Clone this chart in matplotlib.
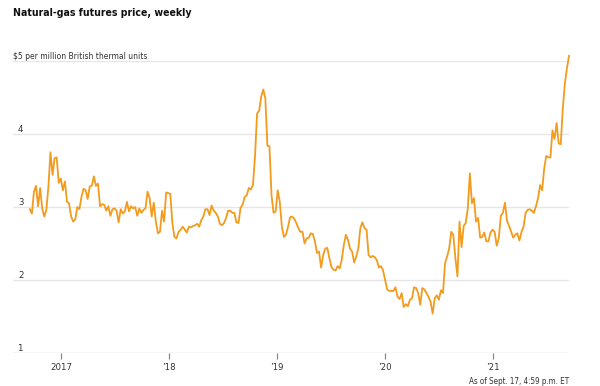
import matplotlib
matplotlib.use("Agg")
import matplotlib.pyplot as plt
import matplotlib.transforms as mtransforms
from matplotlib import font_manager
import pandas as pd

names = {f.name for f in font_manager.fontManager.ttflist}
condensed_dejavu = any(f.name == "DejaVu Sans" and str(f.stretch) in ("condensed", "semi-condensed", "587", "500", "750")
                       for f in font_manager.fontManager.ttflist)
if "Liberation Sans Narrow" in names:
    plt.rcParams['font.family'] = ['Liberation Sans Narrow', 'DejaVu Sans']
    FONT_TAG = "narrow"
elif condensed_dejavu:
    plt.rcParams['font.family'] = ['DejaVu Sans']
    plt.rcParams['font.stretch'] = 'condensed'
    FONT_TAG = "dvcond"
else:
    plt.rcParams['font.family'] = ['Liberation Sans', 'DejaVu Sans']
    FONT_TAG = "arial"

title = "Natural-gas futures price, weekly"
unit_label = "$5 per million British thermal units"
note = "As of Sept. 17, 4:59 p.m. ET"
end_date = "2021-09-17"
xlim_start = "2016-07-21"
year_ticks = ["2017-01-01", "2018-01-01", "2019-01-01", "2020-01-01", "2021-01-01"]
year_labels = ["2017", "\u201918", "\u201919", "\u201920", "\u201921"]
y_ticks = [1, 2, 3, 4, 5]
y_labels = ["1", "2", "3", "4", ""]

prices = [
    2.97, 2.91, 3.21, 3.29, 3.01, 3.26, 2.98, 2.87, 2.96, 3.28,
    3.75, 3.44, 3.67, 3.68, 3.33, 3.39, 3.23, 3.35, 3.07, 3.05,
    2.87, 2.80, 2.83, 3.00, 2.97, 3.14, 3.25, 3.23, 3.11, 3.28,
    3.29, 3.42, 3.29, 3.32, 3.01, 3.04, 3.03, 2.95, 3.01, 2.88,
    2.97, 2.98, 2.95, 2.79, 2.97, 2.91, 2.94, 3.07, 2.94, 3.01,
    2.98, 3.00, 2.88, 2.98, 2.92, 2.96, 2.98, 3.21, 3.12, 2.87,
    3.06, 2.80, 2.64, 2.66, 2.95, 2.80,
    3.20, 3.19, 3.18, 2.78, 2.59, 2.57, 2.66, 2.69, 2.73, 2.69,
    2.65, 2.73, 2.72, 2.74, 2.75, 2.77, 2.73, 2.82, 2.87, 2.97,
    2.97, 2.89, 3.02, 2.95, 2.92, 2.87, 2.77, 2.75, 2.78, 2.85,
    2.95, 2.95, 2.92, 2.92, 2.79, 2.78, 2.99, 3.03, 3.14, 3.16,
    3.26, 3.24, 3.30, 3.69,
    4.28, 4.32, 4.51, 4.61, 4.49, 3.84, 3.83, 3.16, 2.92, 2.94,
    3.23, 3.07, 2.73, 2.59, 2.62, 2.73, 2.86, 2.87, 2.84, 2.78,
    2.71, 2.66, 2.66, 2.50, 2.57, 2.58, 2.64, 2.63, 2.53, 2.37,
    2.39, 2.17, 2.34, 2.43, 2.44, 2.30, 2.18, 2.14, 2.13, 2.19,
    2.16, 2.28, 2.48, 2.62, 2.55, 2.43, 2.39, 2.24, 2.32, 2.43,
    2.71, 2.79, 2.71, 2.69, 2.34, 2.31, 2.33, 2.31, 2.27, 2.17,
    2.19, 2.13, 2.00, 1.87, 1.85, 1.85, 1.85, 1.90, 1.77, 1.74,
    1.82, 1.63, 1.67, 1.64, 1.73, 1.75, 1.90, 1.89, 1.82, 1.66,
    1.89, 1.87, 1.82, 1.77, 1.70, 1.54, 1.75, 1.79, 1.73, 1.86,
    1.82, 2.23, 2.32, 2.43, 2.66, 2.62, 2.30, 2.05, 2.80, 2.45,
    2.74, 2.78, 2.98, 3.46, 3.05, 3.12, 2.80, 2.85, 2.58, 2.59,
    2.65, 2.53, 2.53, 2.65, 2.69, 2.66, 2.47, 2.57, 2.88, 2.92,
    3.06, 2.81, 2.74, 2.66, 2.58, 2.62, 2.64, 2.54, 2.66, 2.73,
    2.92, 2.96, 2.97, 2.95, 2.92, 3.01, 3.12, 3.30, 3.23, 3.53,
    3.70, 3.68, 3.68, 4.05, 3.93, 4.15, 3.87, 3.86, 4.35, 4.69,
    4.90, 5.07,
]

dates = pd.date_range(end=end_date, periods=len(prices), freq="W-FRI")

# size scaling depending on available font width
if FONT_TAG == "narrow":
    s_title, s_unit, s_tick, s_note = 9.4, 7.2, 7.8, 7.0
elif FONT_TAG == "dvcond":
    s_title, s_unit, s_tick, s_note = 7.6, 6.1, 6.8, 5.8
else:
    s_title, s_unit, s_tick, s_note = 7.8, 5.9, 6.8, 5.5

W, H = 600, 386
fig = plt.figure(figsize=(W / 100, H / 100), dpi=100)
ax = fig.add_axes([13 / W, (H - 353) / H, (569 - 13) / W, (353 - 61) / H])

line_color = "#F29B1D"
ax.plot(dates, prices, color=line_color, lw=1.3, clip_on=False, zorder=3,
        solid_joinstyle="round")

ax.set_xlim(pd.Timestamp(xlim_start), pd.Timestamp(end_date))
ax.set_ylim(y_ticks[0], y_ticks[-1])

for s in ax.spines.values():
    s.set_visible(False)

for v in y_ticks[1:]:
    ax.axhline(v, color="#e6e6e6", lw=1.0, zorder=1)
ax.axhline(y_ticks[0], color="#cfcfcf", lw=1.0, zorder=2)

ax.set_yticks([])
ax.set_xticks(pd.to_datetime(year_ticks))
ax.set_xticklabels(year_labels)
ax.tick_params(axis="x", length=4.5, width=0.9, color="#888888", pad=2.5,
               labelsize=s_tick, labelcolor="#333333")

trans = mtransforms.blended_transform_factory(ax.transAxes, ax.transData)
off = mtransforms.ScaledTranslation(0, 2.2 / 100, fig.dpi_scale_trans)
for v, lab in zip(y_ticks, y_labels):
    if lab:
        ax.text(5 / 556, v, lab, transform=trans + off, ha="left", va="baseline",
                fontsize=s_tick, color="#333333")
ax.text(0, y_ticks[-1], unit_label, transform=trans + off, ha="left",
        va="baseline", fontsize=s_unit, color="#333333")

fig.text(13 / W, 1 - 15.5 / H, title, ha="left", va="baseline",
         fontsize=s_title, fontweight="bold", color="#111111")
fig.text(569 / W, 1 - 384 / H, note, ha="right", va="baseline",
         fontsize=s_note, color="#333333")

fig.savefig("out.png", dpi=100)
